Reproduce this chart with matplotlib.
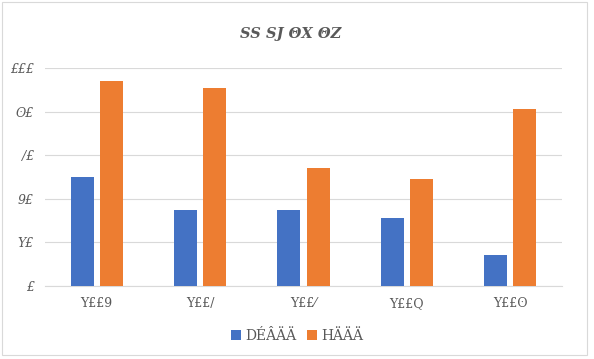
import matplotlib
matplotlib.use('Agg')
import matplotlib.pyplot as plt
import matplotlib.patches as mpatches
import numpy as np

# data
categories = ['Y££9', 'Y££/', 'Y££⁄', 'Y££Q', 'Y££ʘ']
series_names = ['DÉÂÄÄ', 'HÄÄÄ']
blue_vals = [50, 35, 35, 31, 14]
orange_vals = [94, 91, 54, 49, 81]
y_ticks = [0, 20, 40, 60, 80, 100]
y_tick_labels = ['£', 'Y£', '9£', '/£', 'ʘ£', '£££']
title = 'SS SJ ΘX ΘZ'

BLUE = '#4472C4'
ORANGE = '#ED7D31'
GRID = '#D9D9D9'
TEXT = '#595959'

fig = plt.figure(figsize=(5.94, 3.59), dpi=100)
ax = fig.add_axes([0.0758, 0.2033, 0.8704, 0.6073])

x = np.arange(len(categories))
w = 0.222
off = 0.141
ax.bar(x - off, blue_vals, w, color=BLUE, label=series_names[0], zorder=3)
ax.bar(x + off, orange_vals, w, color=ORANGE, label=series_names[1], zorder=3)

ax.set_xlim(-0.5, len(categories) - 0.5)
ax.set_ylim(0, 100)
ax.set_yticks(y_ticks)
ax.set_yticklabels(y_tick_labels, family='DejaVu Serif', style='italic')
ax.set_xticks(x)
ax.set_xticklabels(categories, family='DejaVu Serif')
ax.tick_params(axis='both', length=0, colors=TEXT, labelsize=9)
ax.tick_params(axis='x', pad=8)
ax.tick_params(axis='y', pad=8)
ax.grid(axis='y', color=GRID, linewidth=0.8, zorder=0)
for s in ['top', 'right', 'left']:
    ax.spines[s].set_visible(False)
ax.spines['bottom'].set_color(GRID)

fig.text(0.49, 0.905, title, ha='center', va='center', fontsize=10.5,
         family='DejaVu Serif', style='italic', weight='bold', color=TEXT)

ax.legend(loc='center', bbox_to_anchor=(0.5, 0.065), bbox_transform=fig.transFigure,
          ncol=2, frameon=False, fontsize=10, handlelength=0.7, handleheight=0.7,
          handletextpad=0.3, columnspacing=0.8, labelcolor=TEXT,
          prop={'family': 'DejaVu Serif', 'size': 10})

fig.patches.append(mpatches.Rectangle((0.003, 0.01), 0.985, 0.985, transform=fig.transFigure,
                                      fill=False, edgecolor=GRID, linewidth=0.8))

fig.savefig('out.png', dpi=100)
